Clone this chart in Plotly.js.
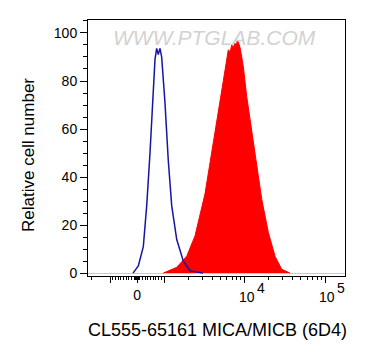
<!DOCTYPE html>
<html><head><meta charset="utf-8">
<script src="https://cdn.plot.ly/plotly-3.0.1.min.js"></script>
<style>html,body{margin:0;padding:0;background:#fff}</style>
</head><body><div id="chart" style="width:367px;height:360px"></div>
<script>
// x values are in display (decade) units of the biexponential axis
const isotypeX = [2.615, 2.681, 2.743, 2.785, 2.826, 2.860, 2.888, 2.909, 2.929, 2.950, 2.971, 3.012, 3.053, 3.096, 3.158, 3.240, 3.323, 3.484];
const isotypeY = [0, 3, 11, 28, 50, 71, 89, 93.6, 91, 93.6, 90, 71, 47, 28, 14, 5, 1, 0];

const stainedX = [2.991, 3.158, 3.282, 3.385, 3.509, 3.593, 3.655, 3.717, 3.758, 3.799, 3.822, 3.841, 3.862, 3.882, 3.897, 3.911, 3.925, 3.944, 3.965, 3.985, 4.027, 4.089, 4.152, 4.214, 4.296, 4.379, 4.462, 4.565];
const stainedY = [0, 2.4, 7, 15.5, 33, 50, 62.5, 75, 84.6, 93, 92, 95, 94, 95.7, 94.5, 97, 96, 94, 90, 86, 73.6, 60, 44.5, 30.7, 16.9, 7, 1.6, 0];

const majorTickValues = [-1000, 0, 1000, 10000, 100000];
const majorTickText = ['', '0', '', '', ''];
const powerTickValues = [10000, 100000];
const powerTickExponents = ['4', '5'];
const minorTickValues = [-2000, -900, -800, -700, -600, -500, -400, -300, -200, -100,
  -90, -80, -70, -60, -50, -40, -30, -20, -10, 10, 20, 30, 40, 50, 60, 70, 80, 90,
  100, 200, 300, 400, 500, 600, 700, 800, 900,
  2000, 3000, 4000, 5000, 6000, 7000, 8000, 9000,
  20000, 30000, 40000, 50000, 60000, 70000, 80000, 90000];
const yTickValues = [0, 20, 40, 60, 80, 100];

const xTitle = 'CL555-65161 MICA/MICB (6D4)';
const yTitle = 'Relative cell number';
const watermark = 'WWW.PTGLAB.COM';

function biex(v) {
  if (v >= 1000) return Math.log10(v);
  if (v > -1000) return 2.665 + 0.335 * v / 1000;
  return 2.33 - 0.75 * (Math.log10(-v) - 3);
}

const traces = [
  {x: stainedX, y: stainedY, type: 'scatter', mode: 'lines', fill: 'tozeroy',
   fillcolor: '#ff0000', line: {color: '#ff0000', width: 1}, hoverinfo: 'skip'},
  {x: isotypeX, y: isotypeY, type: 'scatter', mode: 'lines',
   line: {color: '#1414a8', width: 1.5}, hoverinfo: 'skip'}
];

const fam = 'Liberation Sans, Arial, sans-serif';
const tickFont = {family: fam, size: 14, color: '#000'};

const annotations = [
  {text: watermark, xref: 'paper', yref: 'paper', x: 0.494, y: 0.93,
   xanchor: 'center', yanchor: 'middle', showarrow: false,
   font: {family: fam, size: 21, color: '#d2d2d2', style: 'italic'}},
  {text: xTitle, xref: 'paper', yref: 'paper', x: (217 - 88) / 257, y: -(330 - 276) / 256,
   xanchor: 'center', yanchor: 'middle', showarrow: false,
   font: {family: fam, size: 18, color: '#000'}},
  {text: yTitle, xref: 'paper', yref: 'paper', x: -(88 - 28) / 257, y: (276 - 155) / 256,
   xanchor: 'center', yanchor: 'middle', showarrow: false, textangle: -90,
   font: {family: fam, size: 17, color: '#000'}}
];
powerTickValues.forEach((v, i) => {
  annotations.push({text: '10', xref: 'x', yref: 'paper', x: biex(v), y: -(297 - 276) / 256,
    xanchor: 'center', yanchor: 'middle', xshift: 2, showarrow: false, font: tickFont});
  annotations.push({text: powerTickExponents[i], xref: 'x', yref: 'paper', x: biex(v), y: -(288 - 276) / 256,
    xanchor: 'left', yanchor: 'middle', xshift: 10, showarrow: false, font: tickFont});
});

const layout = {
  width: 367, height: 360,
  margin: {l: 88, r: 22, t: 20, b: 84},
  paper_bgcolor: '#fff', plot_bgcolor: '#fff',
  showlegend: false,
  font: {family: fam, size: 14, color: '#000'},
  xaxis: {
    range: [2.056, 5.248], showgrid: false, zeroline: false,
    showline: true, mirror: true, linecolor: '#000', linewidth: 1,
    tickmode: 'array', tickvals: majorTickValues.map(biex), ticktext: majorTickText,
    ticks: 'outside', ticklen: 6, tickwidth: 1, tickcolor: '#000',
    tickfont: tickFont,
    minor: {tickmode: 'array', tickvals: minorTickValues.map(biex), ticks: 'outside', ticklen: 3, tickwidth: 1, tickcolor: '#000', showgrid: false}
  },
  yaxis: {
    range: [-1.2, 105.4], showgrid: false,
    zeroline: true, zerolinecolor: '#cbc4e4', zerolinewidth: 1,
    showline: true, mirror: true, linecolor: '#000', linewidth: 1,
    tickmode: 'array', tickvals: yTickValues,
    ticks: 'outside', ticklen: 7, tickwidth: 1, tickcolor: '#000',
    tickfont: tickFont,
    minor: {dtick: 5, ticks: 'outside', ticklen: 4, tickwidth: 1, tickcolor: '#000', showgrid: false}
  },
  annotations: annotations
};

Plotly.newPlot('chart', traces, layout, {staticPlot: true, displayModeBar: false});
</script></body></html>
